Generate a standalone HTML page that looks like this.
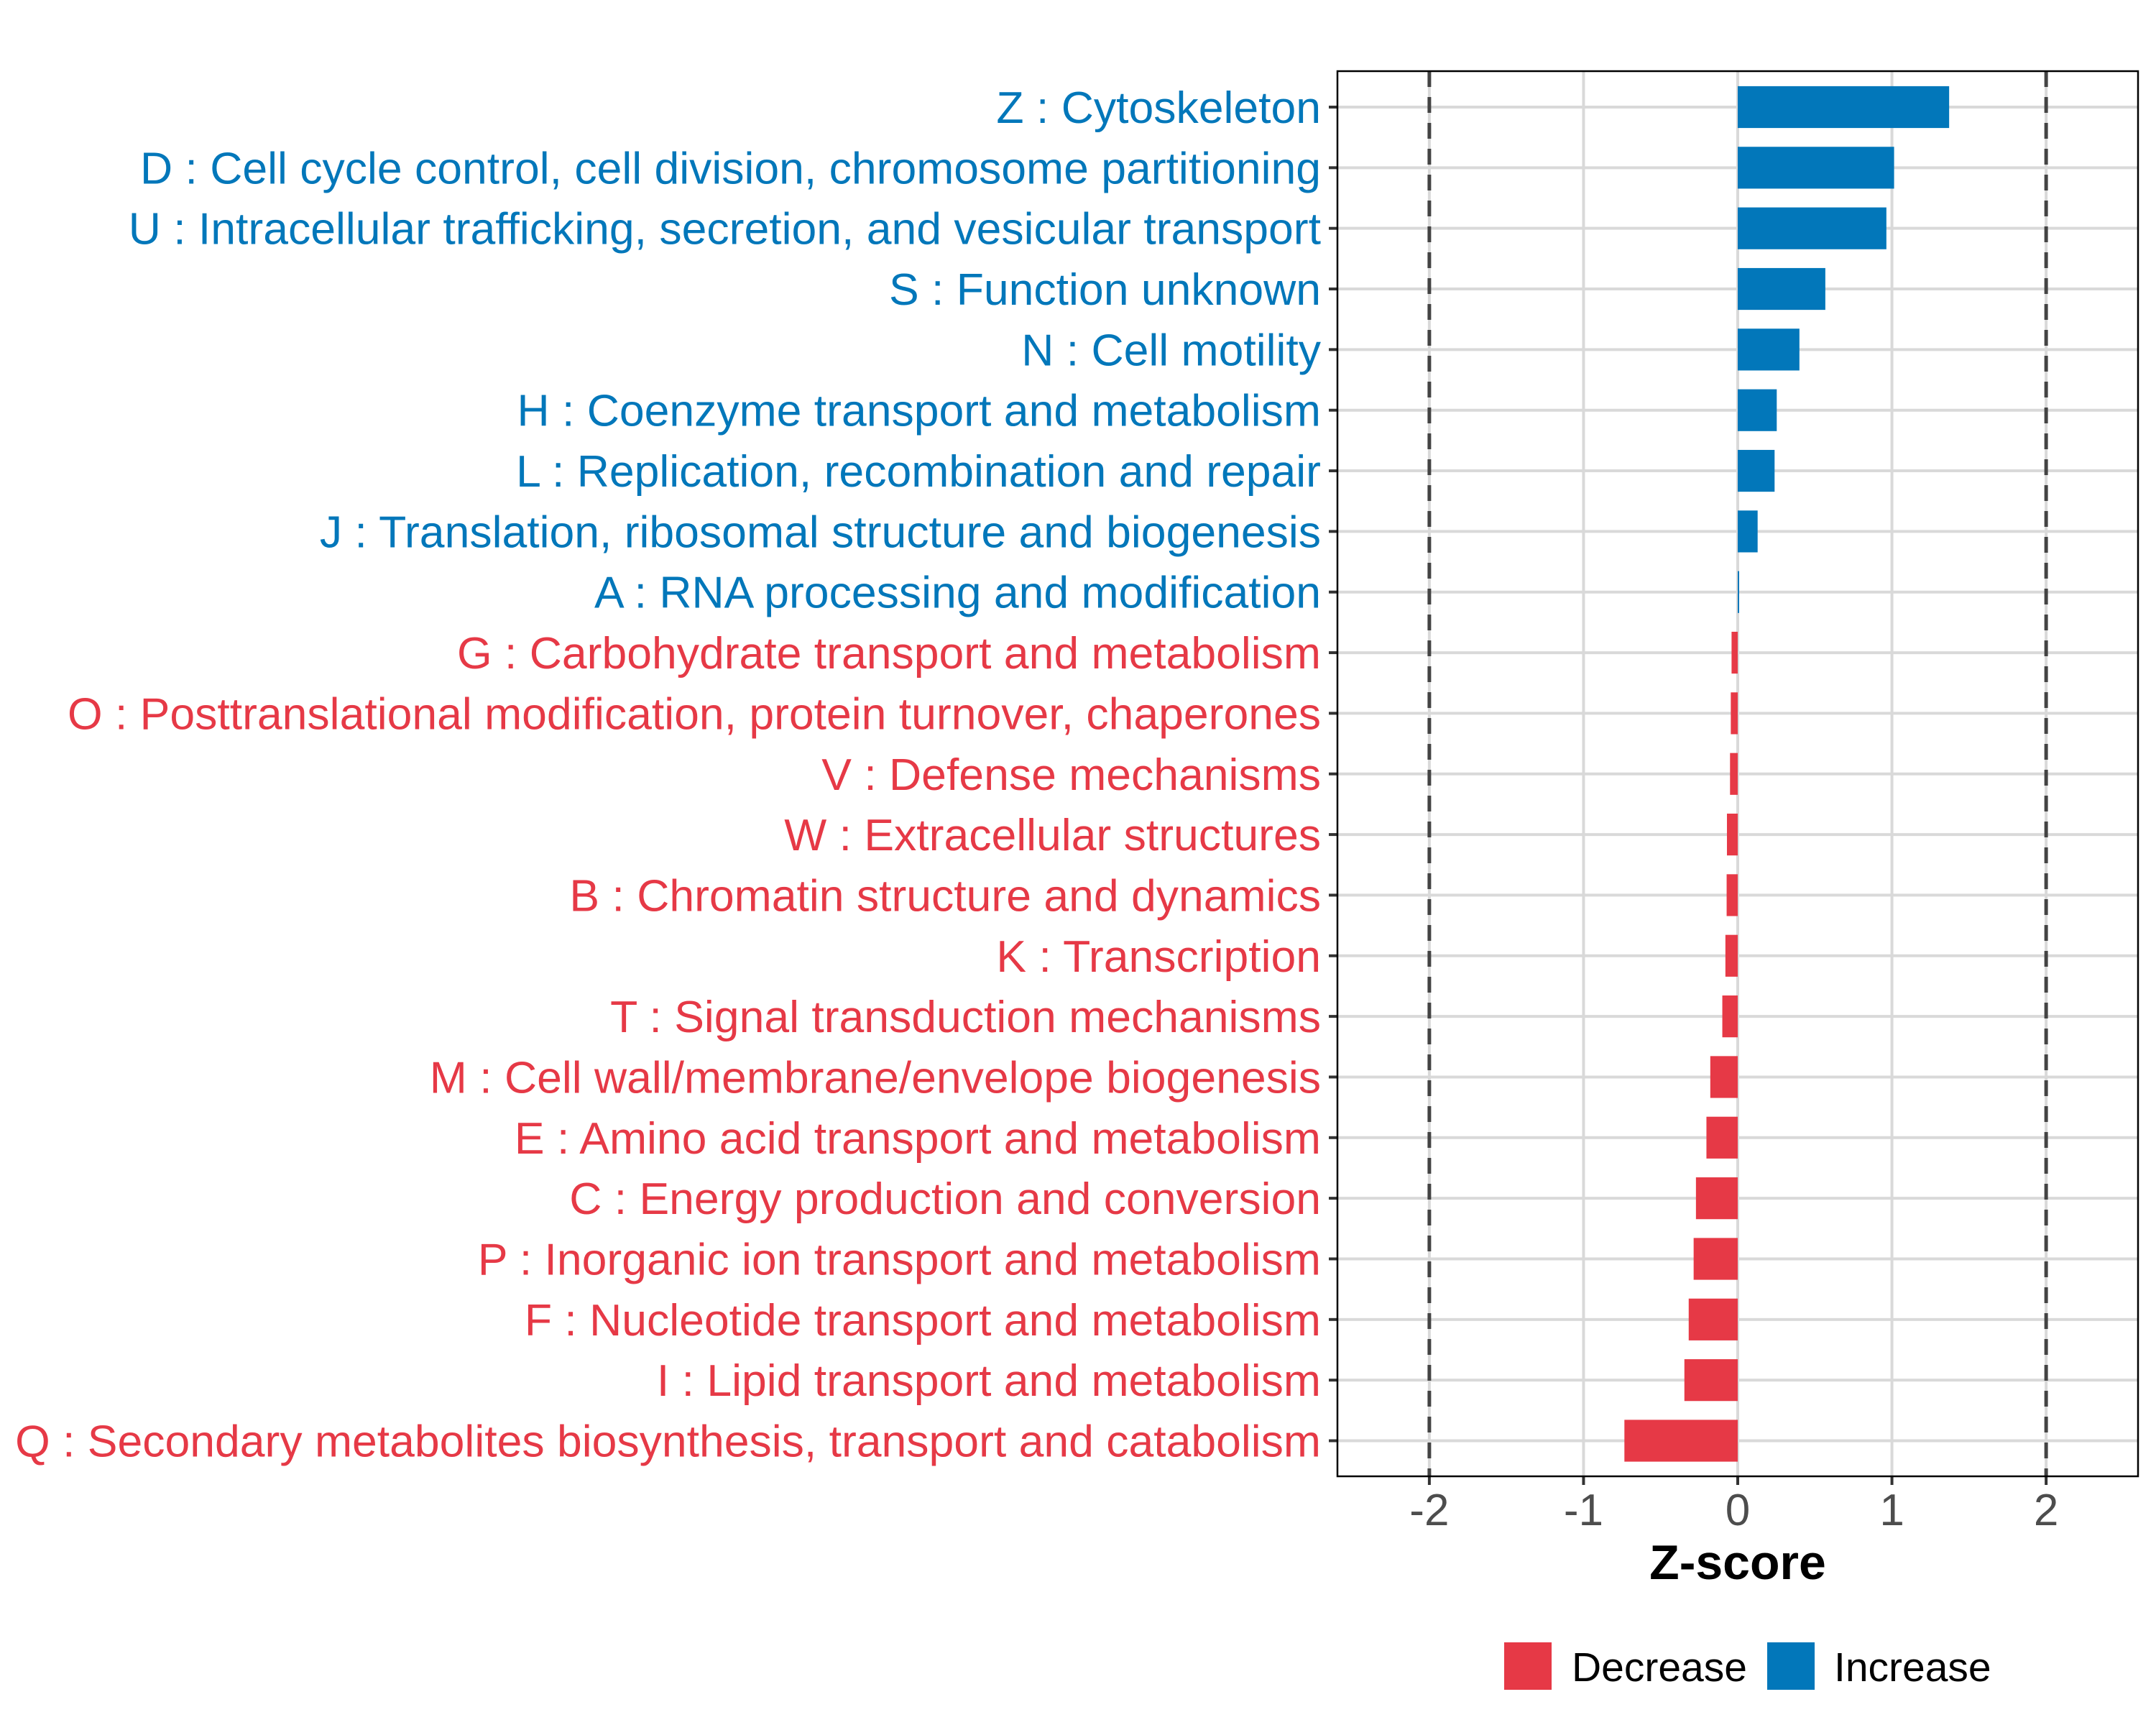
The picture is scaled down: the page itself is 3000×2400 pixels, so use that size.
<!DOCTYPE html>
<html><head><meta charset="utf-8"><style>
html,body{margin:0;padding:0;background:#fff;}
svg{display:block;font-family:"Liberation Sans",Arial,sans-serif;}
</style></head><body>
<svg id="chart" width="3000" height="2400" viewBox="0 0 3000 2400">
<g id="grid"></g>
<g id="bars"></g>
<g id="ylabels"></g>
<g id="xaxis"></g>
<text x="2418" y="2197" text-anchor="middle" font-size="68" font-weight="bold" fill="#000">Z-score</text>
<g>
  <g>
    <rect x="2093" y="2285" width="66" height="66" fill="#E63946"></rect>
    <text x="2187" y="2339" font-size="57" fill="#000">Decrease</text>
  </g>
  <g>
    <rect x="2459" y="2285" width="66" height="66" fill="#0277BA"></rect>
    <text x="2552" y="2339" font-size="57" fill="#000">Increase</text>
  </g>
</g>
</svg>
<script>
const categories = [
"Z : Cytoskeleton",
"D : Cell cycle control, cell division, chromosome partitioning",
"U : Intracellular trafficking, secretion, and vesicular transport",
"S : Function unknown",
"N : Cell motility",
"H : Coenzyme transport and metabolism",
"L : Replication, recombination and repair",
"J : Translation, ribosomal structure and biogenesis",
"A : RNA processing and modification",
"G : Carbohydrate transport and metabolism",
"O : Posttranslational modification, protein turnover, chaperones",
"V : Defense mechanisms",
"W : Extracellular structures",
"B : Chromatin structure and dynamics",
"K : Transcription",
"T : Signal transduction mechanisms",
"M : Cell wall/membrane/envelope biogenesis",
"E : Amino acid transport and metabolism",
"C : Energy production and conversion",
"P : Inorganic ion transport and metabolism",
"F : Nucleotide transport and metabolism",
"I : Lipid transport and metabolism",
"Q : Secondary metabolites biosynthesis, transport and catabolism"
];
const zscores = [1.371,1.014,0.964,0.568,0.400,0.253,0.239,0.129,0.008,-0.040,-0.045,-0.050,-0.070,-0.072,-0.080,-0.100,-0.178,-0.203,-0.271,-0.286,-0.318,-0.346,-0.735];
const xTicks = [-2,-1,0,1,2];
const xTickLabels = ["-2","-1","0","1","2"];
const thresholds = [-2,2];

const NS="http://www.w3.org/2000/svg";
const P={l:1861,r:2975,t:99,b:2054};
const XMIN=-2.596, XMAX=2.596;
const ROW0=149, ROWSTEP=(2004.5-149)/22;
function xs(v){return P.l+(v-XMIN)/(XMAX-XMIN)*(P.r-P.l);}
function ys(i){return ROW0+i*ROWSTEP;}
function mk(tag,attrs,parent){const e=document.createElementNS(NS,tag);for(const k in attrs)e.setAttribute(k,attrs[k]);parent.appendChild(e);return e;}
const BLUE="#0277BA", RED="#E63946";
const grid=document.getElementById('grid'), bars=document.getElementById('bars'),
ylab=document.getElementById('ylabels'), xax=document.getElementById('xaxis'), svg=document.getElementById('chart');

xTicks.forEach((t,i)=>{
  const g=mk('line',{x1:xs(t),x2:xs(t),y1:P.t,y2:P.b,stroke:"#d9d9d9","stroke-width":4},grid);
  
  
  const tk=mk('line',{x1:xs(t),x2:xs(t),y1:P.b,y2:P.b+12,stroke:"#333","stroke-width":4},xax);
  
  
  const tl=mk('text',{x:xs(t),y:2122,"text-anchor":"middle","font-size":62,fill:"#4d4d4d"},xax);
  tl.textContent=xTickLabels[i];
  
  
});
categories.forEach((c,i)=>{
  const g=mk('line',{x1:P.l,x2:P.r,y1:ys(i),y2:ys(i),stroke:"#d9d9d9","stroke-width":4},grid);
  
  
});
thresholds.forEach(t=>{
  const d=mk('line',{x1:xs(t),x2:xs(t),y1:P.t,y2:P.b,stroke:"#444","stroke-width":5,"stroke-dasharray":"22 14"},grid);
  
  
});
const bh=ROWSTEP*0.69;
categories.forEach((c,i)=>{
  const v=zscores[i], col=v>=0?BLUE:RED;
  const x0=Math.min(xs(0),xs(v)), w=Math.max(Math.abs(xs(v)-xs(0)),2);
  const r=mk('rect',{x:x0,y:ys(i)-bh/2,width:w,height:bh,fill:col},bars);
  
  
  const tk=mk('line',{x1:P.l-12,x2:P.l,y1:ys(i),y2:ys(i),stroke:"#333","stroke-width":4},ylab);
  
  
  const t=mk('text',{x:1838,y:ys(i)+22,"text-anchor":"end","font-size":62.5,fill:col},ylab);
  t.textContent=c;
  
  
});
const border=mk('rect',{x:P.l,y:P.t,width:P.r-P.l,height:P.b-P.t,fill:"none",stroke:"#000","stroke-width":2.5},svg);


</script>
</body></html>
